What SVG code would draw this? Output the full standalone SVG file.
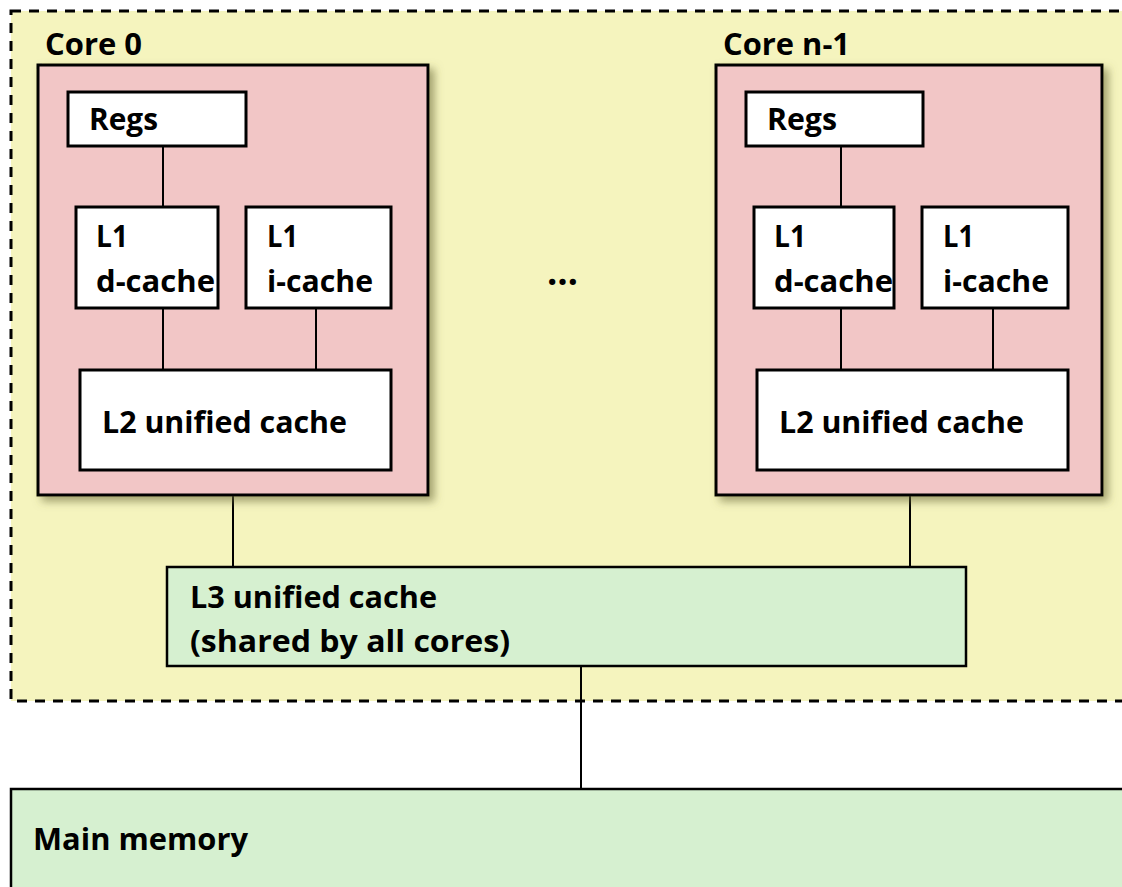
<svg xmlns="http://www.w3.org/2000/svg" width="1122" height="887" viewBox="0 0 1122 887">
<defs>
<filter id="sh" x="-10%" y="-10%" width="130%" height="130%">
<feGaussianBlur in="SourceAlpha" stdDeviation="4"/>
<feOffset dx="5" dy="5" result="b"/>
<feFlood flood-color="#6b6b3a" flood-opacity="0.6"/>
<feComposite in2="b" operator="in"/>
<feMerge><feMergeNode/><feMergeNode in="SourceGraphic"/></feMerge>
</filter>
</defs>
<style>
text{font-family:"Open Sans","Liberation Sans",sans-serif;font-weight:bold;font-size:31px;fill:#000}
.core{fill:#F2C6C6;stroke:#000;stroke-width:3}
.box{fill:#fff;stroke:#000;stroke-width:3}
.green{fill:#D6F0D0;stroke:#000;stroke-width:2.5}
.ln{stroke:#000;stroke-width:2;fill:none}
</style>
<rect width="1122" height="887" fill="#fff"/>
<g id="chip">
<rect x="11" y="11" width="1130" height="690" fill="#F5F4BE" stroke="#000" stroke-width="3" stroke-dasharray="10,8"/>
</g>
<g id="connectors">
<line class="ln" x1="233" y1="495" x2="233" y2="567"/>
<line class="ln" x1="910" y1="495" x2="910" y2="567"/>
<line class="ln" x1="581" y1="666" x2="581" y2="789"/>
</g>
<g id="core0">
<rect class="core" x="38" y="65" width="390" height="430" filter="url(#sh)"/>
<text x="45" y="55" textLength="97" lengthAdjust="spacingAndGlyphs">Core 0</text>
</g>
<g id="coren1">
<rect class="core" x="716" y="65" width="386" height="430" filter="url(#sh)"/>
<text x="723" y="55" textLength="127" lengthAdjust="spacingAndGlyphs">Core n-1</text>
</g>
<g id="connectors-inner">
<line class="ln" x1="163" y1="146" x2="163" y2="207"/>
<line class="ln" x1="163" y1="308" x2="163" y2="370"/>
<line class="ln" x1="316" y1="308" x2="316" y2="370"/>
<line class="ln" x1="841" y1="146" x2="841" y2="207"/>
<line class="ln" x1="841" y1="308" x2="841" y2="370"/>
<line class="ln" x1="993" y1="308" x2="993" y2="370"/>
</g>
<g id="regs0"><rect class="box" x="68" y="92" width="178" height="54"/><text x="89" y="130" textLength="69" lengthAdjust="spacingAndGlyphs">Regs</text></g>
<g id="l1d0"><rect class="box" x="76" y="207" width="142" height="101"/><text x="96" y="247" textLength="32" lengthAdjust="spacingAndGlyphs">L1</text><text x="96" y="292" textLength="119" lengthAdjust="spacingAndGlyphs">d-cache</text></g>
<g id="l1i0"><rect class="box" x="246" y="207" width="145" height="101"/><text x="267" y="247" textLength="31" lengthAdjust="spacingAndGlyphs">L1</text><text x="267" y="292" textLength="106" lengthAdjust="spacingAndGlyphs">i-cache</text></g>
<g id="l20"><rect class="box" x="80" y="370" width="311" height="100"/><text x="102" y="433" textLength="245" lengthAdjust="spacingAndGlyphs">L2 unified cache</text></g>
<g id="regs1"><rect class="box" x="746" y="92" width="177" height="54"/><text x="767" y="130" textLength="70" lengthAdjust="spacingAndGlyphs">Regs</text></g>
<g id="l1d1"><rect class="box" x="754" y="207" width="140" height="101"/><text x="774" y="247" textLength="32" lengthAdjust="spacingAndGlyphs">L1</text><text x="774" y="292" textLength="119" lengthAdjust="spacingAndGlyphs">d-cache</text></g>
<g id="l1i1"><rect class="box" x="922" y="207" width="146" height="101"/><text x="943" y="247" textLength="31" lengthAdjust="spacingAndGlyphs">L1</text><text x="943" y="292" textLength="106" lengthAdjust="spacingAndGlyphs">i-cache</text></g>
<g id="l21"><rect class="box" x="757" y="370" width="311" height="100"/><text x="779" y="433" textLength="245" lengthAdjust="spacingAndGlyphs">L2 unified cache</text></g>
<g id="dots"><text x="547" y="285" textLength="31" lengthAdjust="spacingAndGlyphs" style="font-size:38px">…</text></g>
<g id="l3"><rect class="green" x="167" y="567" width="799" height="99"/><text x="190" y="608" textLength="247" lengthAdjust="spacingAndGlyphs">L3 unified cache</text><text x="190" y="652" textLength="320" lengthAdjust="spacingAndGlyphs">(shared by all cores)</text></g>
<g id="mem"><rect class="green" x="11" y="789" width="1130" height="120"/><text x="33" y="850" textLength="215" lengthAdjust="spacingAndGlyphs">Main memory</text></g>
</svg>
